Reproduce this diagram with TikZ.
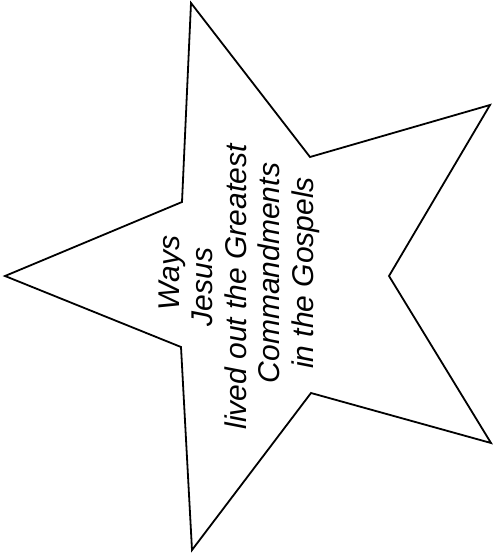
\documentclass[tikz,border=0pt]{standalone}
\usepackage{fontspec}
\setmainfont{Liberation Sans}
\usetikzlibrary{positioning}

\begin{document}
\begin{tikzpicture}[
        x=1pt, y=-1pt,
        starline/.style={draw=black, line width=1.8pt, line join=miter},
        caption/.style={rotate=90, align=center, inner sep=0pt, font=\itshape\fontsize{30}{33.5}\selectfont}
    ]
        \useasboundingbox (0,0) rectangle (492,553);

        % Star outline
        \coordinate (ptop) at (191,3);
        \coordinate (itr) at (310,157);
        \coordinate (pur) at (490,105);
        \coordinate (ir) at (389,276);
        \coordinate (plr) at (491,443);
        \coordinate (ibr) at (311,393);
        \coordinate (pbot) at (192,550);
        \coordinate (ibl) at (181,347);
        \coordinate (pleft) at (5,276);
        \coordinate (itl) at (182,202);
        \draw[starline] (ptop) -- (itr) -- (pur) -- (ir) -- (plr) -- (ibr)
            -- (pbot) -- (ibl) -- (pleft) -- (itl) -- cycle;

        % Text
        \node[caption] (title) at (239,273) {Ways\\Jesus\rule{28pt}{0pt}\\lived out the Greatest\rule{28pt}{0pt}\\Commandments\\in the Gospels};
    \end{tikzpicture}
\end{document}
